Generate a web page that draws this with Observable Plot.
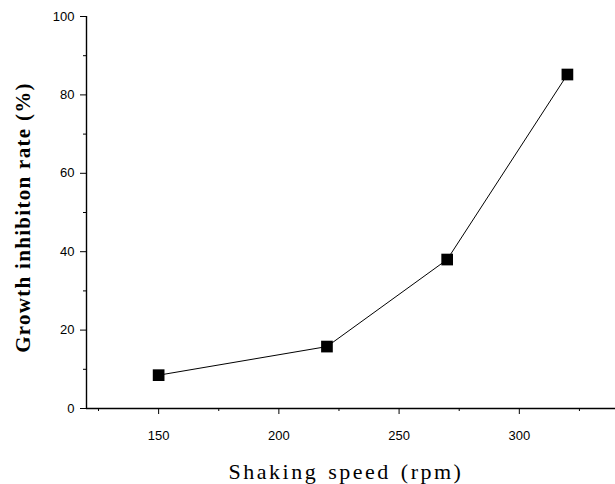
<!DOCTYPE html>
<html>
<head>
<meta charset="utf-8">
<script src="https://cdn.jsdelivr.net/npm/d3@7"></script>
<script src="https://cdn.jsdelivr.net/npm/@observablehq/plot@0.6"></script>
<style>
  html, body { margin: 0; padding: 0; background: #fff; }
  #chart svg { display: block; }
</style>
</head>
<body>
<div id="chart"></div>
<script>
const speeds = [150, 220, 270, 320];
const inhibition = [8.5, 15.8, 38, 85.2];
const yMajor = [0, 20, 40, 60, 80, 100];
const yMinor = [10, 30, 50, 70, 90];
const xMajor = [150, 200, 250, 300];
const xMinor = [125, 175, 225, 275, 325];
const xTitle = "Shaking speed (rpm)";
const yTitle = "Growth inhibiton rate (%)";

const data = speeds.map((s, i) => ({speed: s, rate: inhibition[i]}));

const chart = Plot.plot({
  width: 615,
  height: 484,
  marginLeft: 86,
  marginRight: 0,
  marginTop: 16,
  marginBottom: 76,
  style: {fontFamily: "Liberation Sans, Arial, sans-serif", fontSize: "13px", color: "#000", background: "#fff"},
  x: {domain: [120, 340]},
  y: {domain: [0, 100]},
  marks: [
    Plot.axisY({ticks: yMajor, tickSize: 6, tickPadding: 6, label: null, fontSize: 13}),
    Plot.axisY({ticks: yMinor, tickSize: 3, text: null, label: null}),
    Plot.axisX({ticks: xMajor, tickSize: 6, tickPadding: 16, label: null, fontSize: 13}),
    Plot.axisX({ticks: xMinor, tickSize: 3, text: null, label: null}),
    Plot.ruleX([120], {stroke: "#000", strokeWidth: 1.4}),
    Plot.ruleY([0], {stroke: "#000", strokeWidth: 1.4}),
    Plot.line(data, {x: "speed", y: "rate", stroke: "#000", strokeWidth: 1}),
    Plot.dot(data, {x: "speed", y: "rate", symbol: "square", r: 6.6, fill: "#000", stroke: "none"}),
    Plot.text([yTitle], {frameAnchor: "left", textAnchor: "middle", lineAnchor: "middle", rotate: -90, dx: -63, dy: 5, fontFamily: "Liberation Serif, Times New Roman, serif", fontWeight: "bold", fontSize: 21, fill: "#000"}),
    Plot.text([xTitle], {frameAnchor: "bottom", textAnchor: "middle", lineAnchor: "middle", dy: 63, dx: -5, fontFamily: "Liberation Serif, Times New Roman, serif", fontSize: 22, fill: "#000"})
  ]
});
const svgSel = d3.select(chart);
svgSel.selectAll("text").filter(function() { return this.textContent === xTitle; })
  .style("letter-spacing", "2.5px").style("word-spacing", "2px");
svgSel.selectAll("text").filter(function() { return this.textContent === yTitle; })
  .style("letter-spacing", "1.3px");
document.getElementById("chart").appendChild(chart);
</script>
</body>
</html>
